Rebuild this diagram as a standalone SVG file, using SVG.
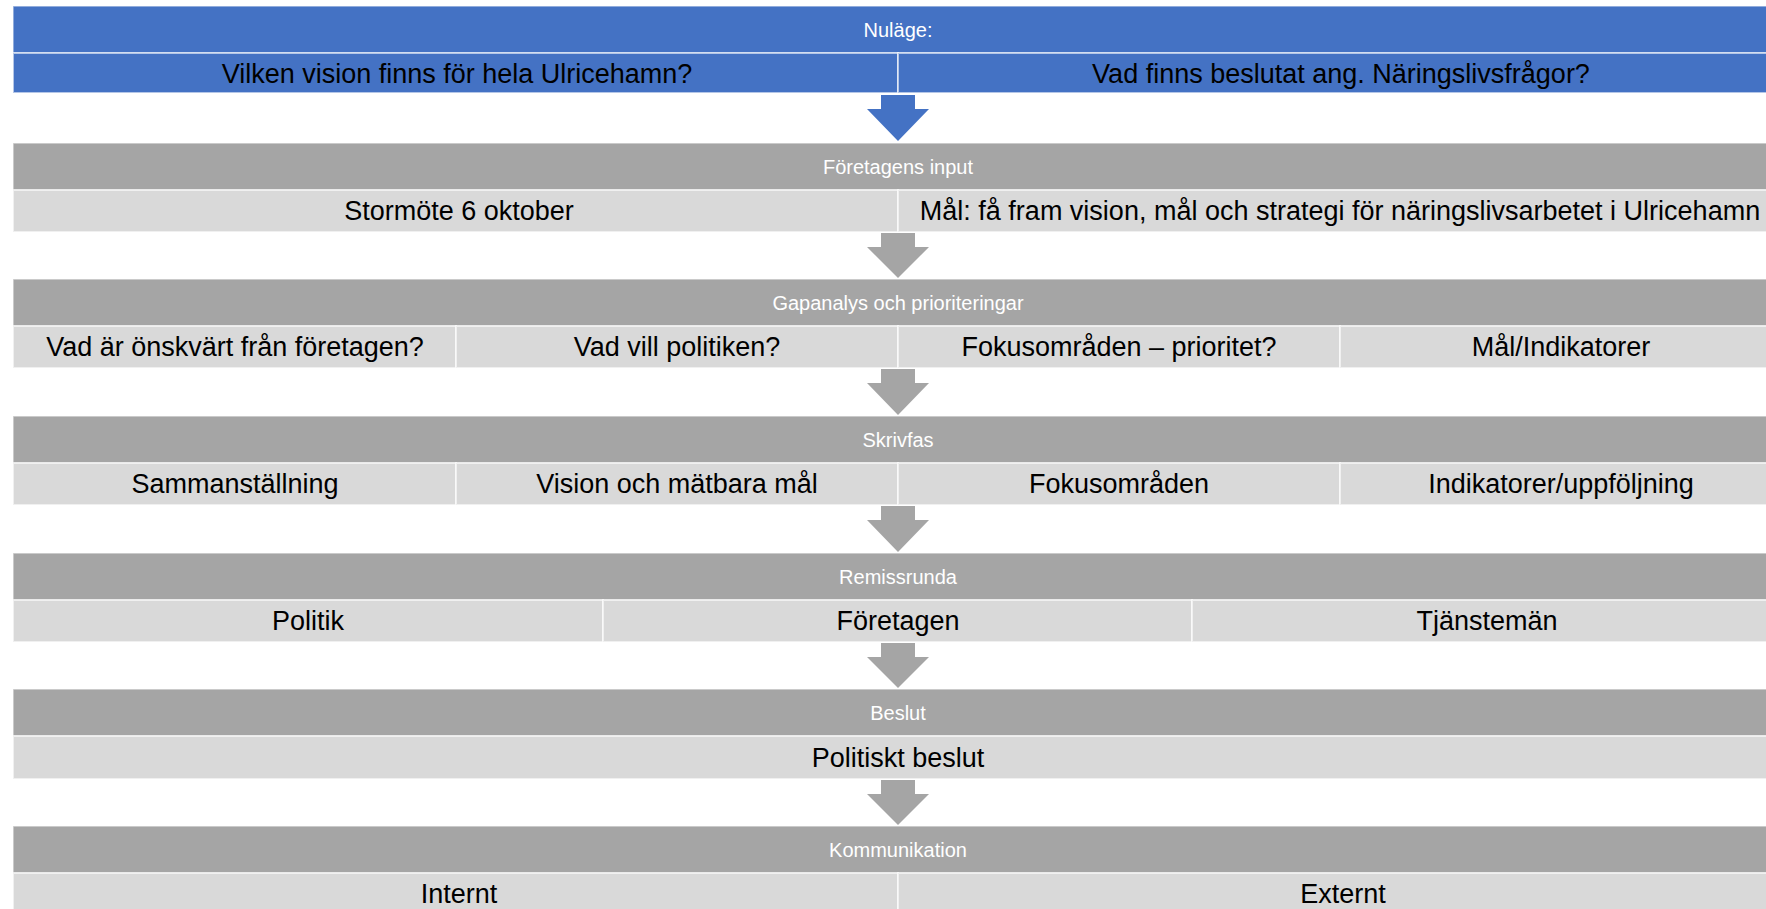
<svg xmlns="http://www.w3.org/2000/svg" width="1766" height="909" viewBox="0 0 1766 909">
  <style>
    .bg{fill:#FFFFFF}
    .hb{fill:#4472C4;stroke:#FFFFFF;stroke-opacity:.55;stroke-width:1.5}
    .hg{fill:#A5A5A5;stroke:#FFFFFF;stroke-opacity:.55;stroke-width:1.5}
    .sb{fill:#4472C4;stroke:#FFFFFF;stroke-opacity:.6;stroke-width:2}
    .sl{fill:#D9D9D9;stroke:#FFFFFF;stroke-opacity:.6;stroke-width:2}
    .ht{font-family:"Liberation Sans",Arial,sans-serif;font-size:20px;fill:#FFFFFF;text-anchor:middle}
    .st{font-family:"Liberation Sans",Arial,sans-serif;font-size:27px;fill:#000000;text-anchor:middle}
    .ab{fill:#4472C4}
    .ag{fill:#A5A5A5}
  </style>
  <rect class="bg" x="0" y="0" width="1766" height="909"/>

  <g id="nulage">
    <rect class="hb" x="13" y="6" width="1769" height="47"/>
    <text class="ht" x="898" y="37">Nuläge:</text>
    <rect class="sb" x="13" y="53" width="885" height="40"/>
    <rect class="sb" x="898" y="53" width="884" height="40"/>
    <text class="st" x="457" y="83">Vilken vision finns för hela Ulricehamn?</text>
    <text class="st" x="1341" y="83">Vad finns beslutat ang. Näringslivsfrågor?</text>
  </g>

  <g id="foretagens-input">
    <rect class="hg" x="13" y="143" width="1769" height="47"/>
    <text class="ht" x="898" y="174">Företagens input</text>
    <rect class="sl" x="13" y="190" width="885" height="42"/>
    <rect class="sl" x="898" y="190" width="884" height="42"/>
    <text class="st" x="459" y="220">Stormöte 6 oktober</text>
    <text class="st" x="1340" y="220">Mål: få fram vision, mål och strategi för näringslivsarbetet i Ulricehamn</text>
  </g>

  <g id="gapanalys">
    <rect class="hg" x="13" y="279" width="1769" height="47"/>
    <text class="ht" x="898" y="310">Gapanalys och prioriteringar</text>
    <rect class="sl" x="13" y="326" width="443" height="42"/>
    <rect class="sl" x="456" y="326" width="442" height="42"/>
    <rect class="sl" x="898" y="326" width="442" height="42"/>
    <rect class="sl" x="1340" y="326" width="442" height="42"/>
    <text class="st" x="235" y="356">Vad är önskvärt från företagen?</text>
    <text class="st" x="677" y="356">Vad vill politiken?</text>
    <text class="st" x="1119" y="356">Fokusområden – prioritet?</text>
    <text class="st" x="1561" y="356">Mål/Indikatorer</text>
  </g>

  <g id="skrivfas">
    <rect class="hg" x="13" y="416" width="1769" height="47"/>
    <text class="ht" x="898" y="447">Skrivfas</text>
    <rect class="sl" x="13" y="463" width="443" height="42"/>
    <rect class="sl" x="456" y="463" width="442" height="42"/>
    <rect class="sl" x="898" y="463" width="442" height="42"/>
    <rect class="sl" x="1340" y="463" width="442" height="42"/>
    <text class="st" x="235" y="493">Sammanställning</text>
    <text class="st" x="677" y="493">Vision och mätbara mål</text>
    <text class="st" x="1119" y="493">Fokusområden</text>
    <text class="st" x="1561" y="493">Indikatorer/uppföljning</text>
  </g>

  <g id="remissrunda">
    <rect class="hg" x="13" y="553" width="1769" height="47"/>
    <text class="ht" x="898" y="584">Remissrunda</text>
    <rect class="sl" x="13" y="600" width="590" height="42"/>
    <rect class="sl" x="603" y="600" width="589" height="42"/>
    <rect class="sl" x="1192" y="600" width="590" height="42"/>
    <text class="st" x="308" y="630">Politik</text>
    <text class="st" x="898" y="630">Företagen</text>
    <text class="st" x="1487" y="630">Tjänstemän</text>
  </g>

  <g id="beslut">
    <rect class="hg" x="13" y="689" width="1769" height="47"/>
    <text class="ht" x="898" y="720">Beslut</text>
    <rect class="sl" x="13" y="736" width="1769" height="43"/>
    <text class="st" x="898" y="767">Politiskt beslut</text>
  </g>

  <g id="kommunikation">
    <rect class="hg" x="13" y="826" width="1769" height="47"/>
    <text class="ht" x="898" y="857">Kommunikation</text>
    <rect class="sl" x="13" y="873" width="885" height="42"/>
    <rect class="sl" x="898" y="873" width="884" height="42"/>
    <text class="st" x="459" y="903">Internt</text>
    <text class="st" x="1343" y="903">Externt</text>
  </g>

  <g id="connectors">
    <polygon class="ab" points="881,95 915,95 915,109 929,109 898,141 867,109 881,109"/>
    <polygon class="ag" points="881,233 915,233 915,247 929,247 898,278 867,247 881,247"/>
    <polygon class="ag" points="881,369 915,369 915,383 929,383 898,415 867,383 881,383"/>
    <polygon class="ag" points="881,506 915,506 915,520 929,520 898,552 867,520 881,520"/>
    <polygon class="ag" points="881,643 915,643 915,657 929,657 898,688 867,657 881,657"/>
    <polygon class="ag" points="881,780 915,780 915,794 929,794 898,825 867,794 881,794"/>
  </g>
</svg>
